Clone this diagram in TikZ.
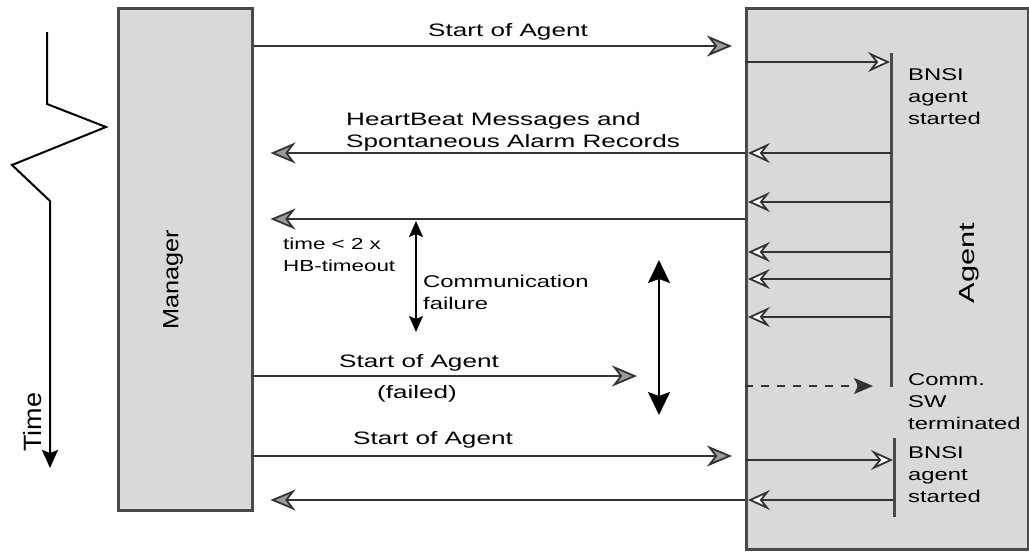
\documentclass[tikz,border=0pt]{standalone}
\usepackage{fontspec}
\setmainfont{Liberation Sans}
\newfontfamily\lblfont[FakeStretch=1.4]{Liberation Sans}
\newfontfamily\msgfont[FakeStretch=1.45]{Liberation Sans}
\newfontfamily\mgrfont[FakeStretch=1.15]{Liberation Sans}
\newfontfamily\agtfont[FakeStretch=1.4]{Liberation Sans}
\newfontfamily\timefont[FakeStretch=1.08]{Liberation Sans}
\usetikzlibrary{arrows.meta}

\definecolor{boxfill}{HTML}{D9D9D9}
\definecolor{boxline}{HTML}{4A4A4A}
\definecolor{linecol}{HTML}{333333}
\definecolor{headgray}{HTML}{9A9A9A}

\begin{document}
\begin{tikzpicture}[x=1pt,y=-1pt,
  box/.style={draw=boxline, line width=2.5pt, fill=boxfill, inner sep=0pt, anchor=north west},
  lbl/.style={font=\lblfont\fontsize{17}{22}\selectfont, inner sep=0pt, text=black},
  msglbl/.style={font=\msgfont\fontsize{18}{22}\selectfont, inner sep=0pt, text=black},
  small/.style={font=\lblfont\fontsize{16}{22}\selectfont, inner sep=0pt, text=black},
  msgout/.style={draw=linecol, line width=1.8pt,
    -{Stealth[length=25pt,width=21pt,inset=8pt,fill=headgray,line width=1.8pt]}},
  msgin/.style={draw=linecol, line width=2pt,
    -{Stealth[length=22pt,width=20pt,inset=8pt,fill=white,line width=1.8pt]}},
  life/.style={draw=boxline, line width=3pt},
  span/.style={draw=black, line width=1.5pt, {Stealth[length=16pt,width=14pt,inset=3pt]}-{Stealth[length=16pt,width=14pt,inset=3pt]}},
  bigspan/.style={draw=black, line width=2pt, {Stealth[length=23pt,width=22pt,inset=4pt]}-{Stealth[length=23pt,width=22pt,inset=4pt]}},
  stop/.style={draw=linecol, line width=2pt, dash pattern=on 8pt off 8pt,
    -{Stealth[length=19pt,width=16pt,inset=4pt]}}
]
\useasboundingbox (0,0) rectangle (1029,552);

% the two parties
\node[box, minimum width=134pt, minimum height=502pt] (manager) at (117,7) {};
\node[box, minimum width=282pt, minimum height=541pt] (agent) at (745,7) {};
\node[font=\mgrfont\fontsize{22}{26}\selectfont, rotate=90, inner sep=0pt] (mgrlabel) at (173,280) {Manager};
\node[font=\agtfont\fontsize{22}{26}\selectfont, rotate=90, inner sep=0pt] (agtlabel) at (969,263) {Agent};

% time axis with break
\coordinate (z0) at (47,32);
\coordinate (z1) at (47,104);
\coordinate (z2) at (106,127);
\coordinate (z3) at (12,165);
\coordinate (z4) at (50,201);
\coordinate (z5) at (50,468);
\draw[black, line width=2pt, line join=miter, -{Stealth[length=18pt,width=16pt,inset=3pt]}]
  (z0) -- (z1) -- (z2) -- (z3) -- (z4) -- (z5);
\node[font=\timefont\fontsize{25}{28}\selectfont, rotate=90, inner sep=0pt] (timelabel) at (33,422) {Time};

% agent lifelines
\coordinate (l1top) at (891,53);
\coordinate (l1bot) at (891,387);
\coordinate (l2top) at (894,438);
\coordinate (l2bot) at (894,517);
\draw[life] (l1top) -- (l1bot);
\draw[life] (l2top) -- (l2bot);

% message levels
\coordinate (y1) at (0,46);
\coordinate (y2) at (0,62);
\coordinate (y3) at (0,153);
\coordinate (y4) at (0,202);
\coordinate (y5) at (0,219);
\coordinate (y6) at (0,252);
\coordinate (y7) at (0,279);
\coordinate (y8) at (0,317);
\coordinate (y9) at (0,376);
\coordinate (y10) at (0,386);
\coordinate (y11) at (0,456);
\coordinate (y12) at (0,460);
\coordinate (y13) at (0,500);
\coordinate (failend) at (637,376);

% first start
\draw[msgout, shorten >=13pt] (manager.east |- y1) -- (agent.west |- y1);
\node[msglbl, anchor=base] (start1) at (508,36) {Start of Agent};
\draw[msgin, shorten >=1pt] (agent.west |- y2) -- (l1top |- y2);
\node[lbl, anchor=north west, align=left] (bnsi1) at (908,68) {BNSI\\agent\\started};

% heartbeats
\draw[msgin, shorten >=3pt] (l1top |- y3) -- (agent.west |- y3);
\draw[msgout, shorten >=17pt] (agent.west |- y3) -- (manager.east |- y3);
\node[msglbl, anchor=north west, align=left] (hb) at (346,112) {HeartBeat Messages and\\Spontaneous Alarm Records};
\draw[msgin, shorten >=3pt] (l1top |- y4) -- (agent.west |- y4);
\draw[msgout, shorten >=17pt] (agent.west |- y5) -- (manager.east |- y5);
\draw[msgin, shorten >=3pt] (l1top |- y6) -- (agent.west |- y6);
\draw[msgin, shorten >=3pt] (l1top |- y7) -- (agent.west |- y7);
\draw[msgin, shorten >=3pt] (l1top |- y8) -- (agent.west |- y8);

% communication failure
\coordinate (cf1) at (416,221);
\coordinate (cf2) at (416,332);
\draw[span] (cf1) -- (cf2);
\node[small, anchor=north west, align=left] (hbt) at (283,238) {time < 2 x\\HB-timeout};
\node[lbl, anchor=north west, align=left] (cfl) at (423,275) {Communication\\failure};

% failed start
\draw[msgout] (manager.east |- y9) -- (failend);
\node[msglbl, anchor=base] (start2) at (419,367) {Start of Agent};
\node[msglbl, anchor=base] (failed) at (417,398) {(failed)};
\coordinate (bs1) at (659,260);
\coordinate (bs2) at (659,415);
\draw[bigspan] (bs1) -- (bs2);

% termination
\draw[stop, shorten >=18pt] (agent.west |- y10) -- (l1bot |- y10);
\node[lbl, anchor=north west, align=left] (term) at (908,373) {Comm.\\SW\\terminated};

% restart
\draw[msgout, shorten >=13pt] (manager.east |- y11) -- (agent.west |- y11);
\node[msglbl, anchor=base] (start3) at (433,444) {Start of Agent};
\draw[msgin, shorten >=1pt] (agent.west |- y12) -- (l2top |- y12);
\node[lbl, anchor=north west, align=left] (bnsi2) at (908,446) {BNSI\\agent\\started};
\draw[msgin, shorten >=3pt] (l2top |- y13) -- (agent.west |- y13);
\draw[msgout, shorten >=17pt] (agent.west |- y13) -- (manager.east |- y13);
\end{tikzpicture}
\end{document}
